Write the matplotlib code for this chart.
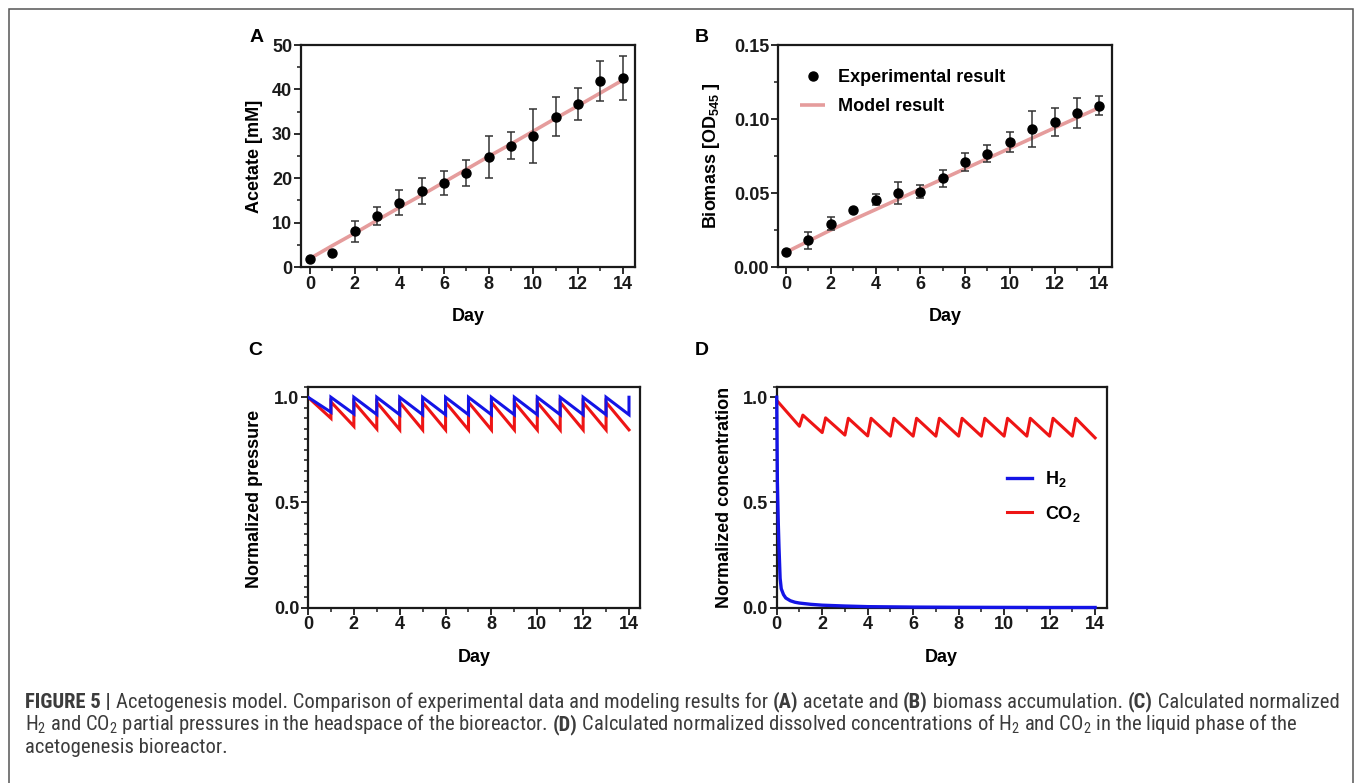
import matplotlib
matplotlib.use("Agg")
import matplotlib.pyplot as plt
import matplotlib.font_manager as fm
from matplotlib.ticker import MultipleLocator, FormatStrFormatter
from matplotlib.patches import Rectangle

# ---------------- data ----------------
days = [0, 1, 2, 3, 4, 5, 6, 7, 8, 9, 10, 11, 12, 13, 14]

acetate_exp = [1.7, 3.2, 8.0, 11.5, 14.5, 17.1, 18.9, 21.1, 24.7, 27.3, 29.5, 33.8, 36.7, 41.8, 42.6]
acetate_err = [0.0, 0.0, 2.3, 2.1, 2.8, 3.0, 2.7, 2.9, 4.7, 3.0, 6.0, 4.4, 3.7, 4.5, 4.9]
acetate_model = [1.9, 4.8, 7.6, 10.5, 13.4, 16.2, 19.1, 22.0, 24.9, 27.7, 30.6, 33.5, 36.3, 39.2, 42.1]

biomass_exp = [0.0102, 0.0181, 0.0292, 0.0385, 0.0455, 0.0498, 0.0510, 0.0598, 0.0707, 0.0764,
               0.0845, 0.0931, 0.0977, 0.1040, 0.1090]
biomass_err = [0.0, 0.0057, 0.0045, 0.0, 0.0035, 0.0073, 0.0042, 0.0060, 0.0060, 0.0057,
               0.0068, 0.0120, 0.0095, 0.0100, 0.0066]
biomass_model = [0.0100, 0.0175, 0.0250, 0.0320, 0.0388, 0.0457, 0.0526, 0.0595, 0.0664, 0.0733,
                 0.0802, 0.0871, 0.0940, 0.1008, 0.1077]

# Panel C: headspace partial pressures (value after refill at day d, value just before refill)
h2_p_after = [1.000, 1.000, 1.000, 1.000, 1.000, 1.000, 1.000, 1.000, 1.000, 1.000, 1.000, 1.000, 1.000, 1.000, 1.000]
h2_p_before = [0.929, 0.921, 0.918, 0.917, 0.917, 0.917, 0.917, 0.917, 0.917, 0.917, 0.917, 0.917, 0.917, 0.917]
co2_p_after = [1.000, 0.978, 0.977, 0.976, 0.976, 0.976, 0.976, 0.976, 0.976, 0.976, 0.976, 0.976, 0.976, 0.976]
co2_p_before = [0.900, 0.862, 0.850, 0.846, 0.845, 0.845, 0.845, 0.845, 0.845, 0.845, 0.845, 0.845, 0.845, 0.845]

# Panel D: dissolved concentrations
h2_c_time = [0.0, 0.03, 0.07, 0.10, 0.15, 0.20, 0.30, 0.40, 0.60, 0.80, 1.0, 1.5, 2.0, 3.0, 4.0, 6.0, 8.0, 10.0, 12.0, 14.0]
h2_c_value = [1.0, 0.60, 0.40, 0.29, 0.14, 0.09, 0.062, 0.046, 0.033, 0.026, 0.022, 0.016, 0.012, 0.008,
              0.005, 0.003, 0.002, 0.0015, 0.001, 0.001]
co2_c_start = 0.985
co2_c_trough = [0.862, 0.832, 0.820, 0.816, 0.815, 0.815, 0.815, 0.815, 0.815, 0.815, 0.815, 0.815, 0.815, 0.807]
co2_c_peak = [0.915, 0.902, 0.900, 0.900, 0.900, 0.900, 0.900, 0.900, 0.900, 0.900, 0.900, 0.900, 0.900]
co2_c_peak_delay = 0.15   # days after refill when the dissolved CO2 peaks

# ---------------- styling ----------------
W, H = 1357, 783
plt.rcParams["font.family"] = ["Liberation Sans", "DejaVu Sans"]
plt.rcParams["font.weight"] = "bold"
plt.rcParams["axes.labelweight"] = "bold"
plt.rcParams["mathtext.fontset"] = "custom"
plt.rcParams["mathtext.rm"] = "Liberation Sans:bold"
plt.rcParams["mathtext.it"] = "Liberation Sans:bold"
plt.rcParams["mathtext.bf"] = "Liberation Sans:bold"

fig = plt.figure(figsize=(W / 100, H / 100), dpi=100)
INK = "#1a1a1a"
PINK = "#e59c9c"
BLUE = "#1414e6"
RED = "#ee1515"


def px_axes(left, top, right, bottom):
    return fig.add_axes([left / W, 1 - bottom / H, (right - left) / W, (bottom - top) / H])


def style(ax):
    for s in ax.spines.values():
        s.set_linewidth(1.6)
        s.set_color(INK)
    ax.tick_params(which="major", direction="out", length=4.8, width=1.3, labelsize=13,
                   pad=1.5, colors=INK)
    ax.tick_params(which="minor", direction="out", length=3.0, width=1.1, colors=INK)
    ax.xaxis.set_major_locator(MultipleLocator(2))
    ax.xaxis.set_minor_locator(MultipleLocator(1))


lab_fs = 13

# ---- A ----
axA = px_axes(301, 45, 635, 267)
style(axA)
axA.plot(days, acetate_model, color=PINK, lw=2.6, zorder=2, solid_capstyle="butt")
axA.errorbar(days, acetate_exp, yerr=acetate_err, fmt="none", ecolor="#333333", elinewidth=1.1,
             capsize=3, capthick=1.1, zorder=3)
axA.plot(days, acetate_exp, "o", color="black", ms=6.5, zorder=4)
axA.set_xlim(-0.4, 14.55)
axA.set_ylim(0, 50)
axA.yaxis.set_major_locator(MultipleLocator(10))
axA.yaxis.set_minor_locator(MultipleLocator(5))
axA.set_ylabel("Acetate [mM]", fontsize=lab_fs)
axA.set_xlabel("Day", fontsize=lab_fs)
axA.yaxis.set_label_coords(-0.114, 0.5)
axA.xaxis.set_label_coords(0.5, -0.185)

# ---- B ----
axB = px_axes(778, 45, 1112, 267)
style(axB)
lm, = axB.plot(days, biomass_model, color=PINK, lw=2.6, zorder=2, solid_capstyle="butt")
axB.errorbar(days, biomass_exp, yerr=biomass_err, fmt="none", ecolor="#333333", elinewidth=1.1,
             capsize=3, capthick=1.1, zorder=3)
pe, = axB.plot(days, biomass_exp, "o", color="black", ms=6.5, zorder=4)
axB.set_xlim(-0.36, 14.57)
axB.set_ylim(0, 0.15)
axB.yaxis.set_major_locator(MultipleLocator(0.05))
axB.yaxis.set_minor_locator(MultipleLocator(0.025))
axB.yaxis.set_major_formatter(FormatStrFormatter("%.2f"))
axB.set_ylabel(r"Biomass [OD$_{545}$ ]", fontsize=lab_fs)
axB.set_xlabel("Day", fontsize=lab_fs)
axB.yaxis.set_label_coords(-0.168, 0.5)
axB.xaxis.set_label_coords(0.5, -0.185)
axB.legend([pe, lm], ["Experimental result", "Model result"], loc="upper left",
           bbox_to_anchor=(0.066, 0.892), frameon=False, fontsize=13, numpoints=1,
           handlelength=1.4, handletextpad=0.7, labelspacing=0.67, borderpad=0,
           borderaxespad=0)

# ---- C ----
axC = px_axes(308, 386.7, 640, 607.7)
style(axC)
h2x, h2y = [days[0]], [h2_p_after[0]]
for d in days[1:]:
    h2x += [d, d]
    h2y += [h2_p_before[d - 1], h2_p_after[d]]
cox, coy = [days[0]], [co2_p_after[0]]
for d in days[1:]:
    cox.append(d)
    coy.append(co2_p_before[d - 1])
    if d < len(co2_p_after):
        cox.append(d)
        coy.append(co2_p_after[d])
axC.plot(cox, coy, color=RED, lw=2.2, solid_joinstyle="miter", zorder=2)
axC.plot(h2x, h2y, color=BLUE, lw=2.2, solid_joinstyle="miter", zorder=3)
axC.set_xlim(0, 14.48)
axC.set_ylim(0, 1.05)
axC.yaxis.set_major_locator(MultipleLocator(0.5))
axC.yaxis.set_minor_locator(MultipleLocator(0.05))
axC.yaxis.set_major_formatter(FormatStrFormatter("%.1f"))
axC.set_ylabel("Normalized pressure", fontsize=lab_fs)
axC.set_xlabel("Day", fontsize=lab_fs)
axC.yaxis.set_label_coords(-0.1355, 0.493)
axC.xaxis.set_label_coords(0.5, -0.187)

# ---- D ----
axD = px_axes(776.7, 386.7, 1106.7, 607.7)
style(axD)
dx, dy = [days[0]], [co2_c_start]
for d in days[1:]:
    dx.append(d)
    dy.append(co2_c_trough[d - 1])
    if d - 1 < len(co2_c_peak):
        dx.append(d + co2_c_peak_delay)
        dy.append(co2_c_peak[d - 1])
lc, = axD.plot(dx, dy, color=RED, lw=2.2, zorder=2)
lh, = axD.plot(h2_c_time, h2_c_value, color=BLUE, lw=2.4, zorder=3, clip_on=False)
axD.set_xlim(0, 14.51)
axD.set_ylim(0, 1.05)
axD.yaxis.set_major_locator(MultipleLocator(0.5))
axD.yaxis.set_minor_locator(MultipleLocator(0.05))
axD.yaxis.set_major_formatter(FormatStrFormatter("%.1f"))
axD.set_ylabel("Normalized concentration", fontsize=lab_fs)
axD.set_xlabel("Day", fontsize=lab_fs)
axD.yaxis.set_label_coords(-0.132, 0.5)
axD.xaxis.set_label_coords(0.5, -0.187)
axD.legend([lh, lc], [r"H$_2$", r"CO$_2$"], loc="upper left", bbox_to_anchor=(0.698, 0.626),
           frameon=False, fontsize=13, handlelength=1.4, handletextpad=0.7,
           labelspacing=0.8, borderpad=0, borderaxespad=0)

# ---- panel letters ----
for letter, (x, y) in {"A": (257, 37), "B": (702, 37), "C": (255, 350), "D": (702, 350)}.items():
    fig.text(x / W, 1 - y / H, letter, fontsize=14, weight="bold", ha="center", va="center",
             color="black")

# ---- outer frame ----
fig.patches.append(Rectangle((8.5, -20), 1344, H - 9 + 20, transform=None, fill=False,
                             edgecolor="#555555", lw=1.1))


# ---------------- caption ----------------
def find_narrow():
    for fam in ["Liberation Sans Narrow", "Roboto Condensed", "Open Sans Condensed",
                "DejaVu Sans Condensed", "Noto Sans Condensed"]:
        try:
            fm.findfont(fm.FontProperties(family=fam), fallback_to_default=False)
            return dict(family=[fam, "DejaVu Sans"])
        except Exception:
            pass
    for fam in ["Noto Sans", "DejaVu Sans", "Open Sans", "Roboto"]:
        try:
            p = fm.findfont(fm.FontProperties(family=fam, stretch="condensed"),
                            fallback_to_default=False)
            if "ondensed" in p or "arrow" in p:
                return dict(family=[fam, "DejaVu Sans"], stretch="condensed")
        except Exception:
            pass
    return dict(family=["Liberation Sans", "DejaVu Sans"])


capkw = find_narrow()
CAP_COLOR = "#3c3c3c"
renderer = fig.canvas.get_renderer()


def text_w(s, fs, weight):
    t = fig.text(0, 0, s, fontsize=fs, weight=weight, **capkw)
    w = t.get_window_extent(renderer).width
    t.remove()
    return w


def run_w(s, fs, weight):
    return text_w("|" + s + "|", fs, weight) - text_w("||", fs, weight)


SUB = r"$\mathregular{_2}$"
line1 = [("FIGURE 5 | ", "bold"),
         ("Acetogenesis model. Comparison of experimental data and modeling results for ", "normal"),
         ("(A)", "bold"), (" acetate and ", "normal"), ("(B)", "bold"),
         (" biomass accumulation. ", "normal"), ("(C)", "bold"), (" Calculated normalized", "normal")]
line2 = [("H" + SUB + " and CO" + SUB + " partial pressures in the headspace of the bioreactor. ", "normal"),
         ("(D)", "bold"),
         (" Calculated normalized dissolved concentrations of H" + SUB + " and CO" + SUB +
          " in the liquid phase of the", "normal")]
line3 = [("acetogenesis bioreactor.", "normal")]


def line_width(runs, fs):
    return sum(run_w(s, fs, wt) for s, wt in runs)


base = 10.0
cap_fs = base * 1308.0 / line_width(line1, base)


def place(runs, x0, ybase):
    x = x0
    for s, wt in runs:
        fig.text(x / W, 1 - ybase / H, s, fontsize=cap_fs, weight=wt, ha="left",
                 va="baseline", color=CAP_COLOR, **capkw)
        x += run_w(s, cap_fs, wt)


place(line1, 25, 707.5)
place(line2, 25, 730.5)
place(line3, 25, 753)

fig.savefig("out.png", dpi=100)
